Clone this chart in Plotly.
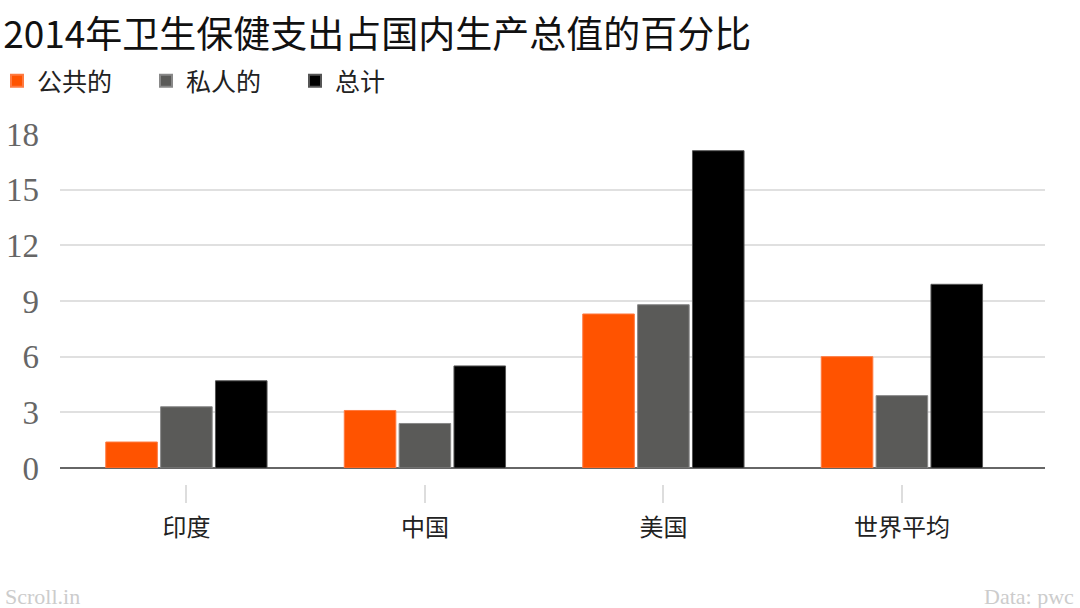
import plotly.graph_objects as go

categories = ["印度", "中国", "美国", "世界平均"]
series_names = ["公共的", "私人的", "总计"]
public_vals = [1.4, 3.1, 8.3, 6.0]
private_vals = [3.3, 2.4, 8.8, 3.9]
total_vals = [4.7, 5.5, 17.1, 9.9]
y_ticks = [0, 3, 6, 9, 12, 15, 18]

colors = ["#FF5300", "#5A5A58", "#000000"]
line_colors = ["#FF7A40", "#888888", "#555555"]
values = [public_vals, private_vals, total_vals]

CJK = "Noto Sans CJK SC"
SERIF = "Droid Serif, Liberation Serif, DejaVu Serif, serif"

fig = go.Figure()
for name, vals, c, lc in zip(series_names, values, colors, line_colors):
    fig.add_trace(go.Bar(
        x=categories, y=vals, name=name,
        marker=dict(color=c, line=dict(color=lc, width=1)),
        hoverinfo="x+y+name",
    ))

W, H = 1080, 608
L, R, T, B = 60, 35, 134, 60
ph = H - T - B

def py(pix):
    return (H - B - pix) / ph

def px(pix):
    return (pix - L) / (W - L - R)

fig.update_layout(
    width=W, height=H,
    margin=dict(l=L, r=R, t=T, b=B, autoexpand=False),
    paper_bgcolor="white", plot_bgcolor="white",
    barmode="group", bargap=0.31, bargroupgap=0.06,
    font=dict(family=CJK, color="#222222"),
    title=dict(
        text="2014年卫生保健支出占国内生产总值的百分比",
        font=dict(family=CJK, size=37, color="#111111"),
        x=0.003, xanchor="left", xref="container",
        y=1 - 35 / H, yanchor="middle", yref="container",
    ),
    legend=dict(
        orientation="h", x=px(-3), xanchor="left",
        y=py(81), yanchor="middle",
        font=dict(family=CJK, size=25, color="#222222"),
        itemsizing="constant", entrywidth=104, entrywidthmode="pixels",
        bgcolor="rgba(0,0,0,0)",
    ),
    xaxis=dict(
        range=[-0.53, 3.6], anchor="free", position=py(484), automargin=False,
        showline=False, showgrid=False, zeroline=False,
        ticks="outside", ticklen=18, tickwidth=1.5, tickcolor="#dddddd",
        tickfont=dict(family=CJK, size=24, color="#222222"),
        ticklabelstandoff=4,
    ),
    yaxis=dict(
        domain=[py(468), 1], range=[0, 18], automargin=False,
        tickvals=y_ticks, ticktext=[str(v) for v in y_ticks],
        showgrid=True, gridcolor="#e0e0e0", gridwidth=1.5,
        zeroline=True, zerolinecolor="#666666", zerolinewidth=2,
        showline=False, ticks="", ticklabelstandoff=20,
        tickfont=dict(family=SERIF, size=33, color="#666666"),
    ),
    annotations=[
        dict(text="Scroll.in", xref="paper", yref="paper",
             x=px(3), y=py(596), xanchor="left", yanchor="middle",
             showarrow=False, font=dict(family=SERIF, size=22, color="#cccccc")),
        dict(text="Data: pwc", xref="paper", yref="paper",
             x=px(1076), y=py(596), xanchor="right", yanchor="middle",
             showarrow=False, font=dict(family=SERIF, size=22, color="#cccccc")),
    ],
)

fig.write_html(
    "out.html",
    config={"displayModeBar": False},
    post_script="document.body.style.margin='0';document.body.style.overflow='hidden';",
)
